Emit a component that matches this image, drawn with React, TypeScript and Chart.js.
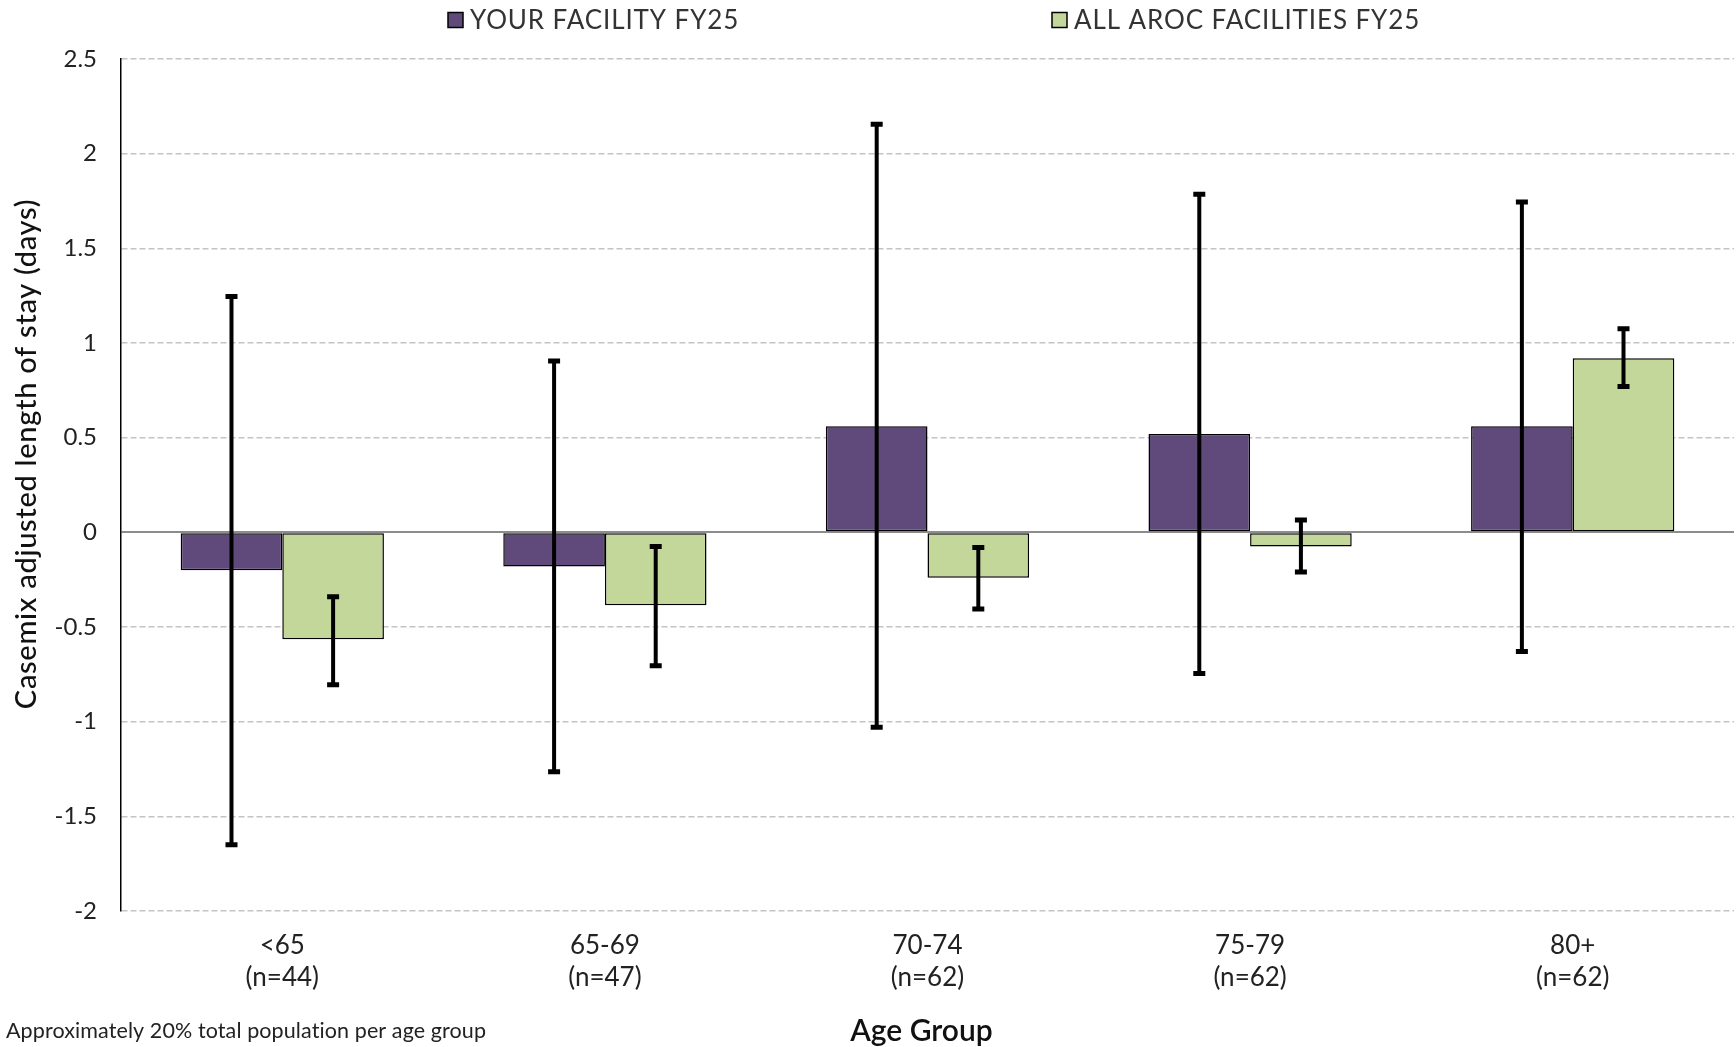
import React, { useEffect, useRef } from "react";
import { Chart, registerables } from "chart.js";

Chart.register(...registerables);

// ---- data ----
const categories: string[][] = [
  ["<65", "(n=44)"],
  ["65-69", "(n=47)"],
  ["70-74", "(n=62)"],
  ["75-79", "(n=62)"],
  ["80+", "(n=62)"],
];
const facilityValues = [-0.2, -0.18, 0.56, 0.52, 0.56];
const facilityLow = [-1.65, -1.265, -1.03, -0.745, -0.63];
const facilityHigh = [1.245, 0.905, 2.155, 1.785, 1.745];
const arocValues = [-0.565, -0.385, -0.24, -0.075, 0.92];
const arocLow = [-0.805, -0.705, -0.405, -0.21, 0.77];
const arocHigh = [-0.34, -0.075, -0.08, 0.065, 1.075];
const yTickValues = [2.5, 2, 1.5, 1, 0.5, 0, -0.5, -1, -1.5, -2];

const seriesNames = ["YOUR FACILITY FY25", "ALL AROC FACILITIES FY25"];
const seriesColors = ["#604A7B", "#C4D79B"];
const yTitle = "Casemix adjusted length of stay (days)";
const xTitle = "Age Group";
const footnote = "Approximately 20% total population per age group";

const FONT = "Lato, 'Open Sans', sans-serif";

const errLows = [facilityLow, arocLow];
const errHighs = [facilityHigh, arocHigh];

const errorBarPlugin = {
  id: "errorBars",
  afterDatasetsDraw(chart: any) {
    const { ctx } = chart;
    const yScale = chart.scales.y;
    chart.data.datasets.forEach((_ds: any, di: number) => {
      const meta = chart.getDatasetMeta(di);
      meta.data.forEach((bar: any, i: number) => {
        const x = bar.x;
        const yl = yScale.getPixelForValue(errLows[di][i]);
        const yh = yScale.getPixelForValue(errHighs[di][i]);
        ctx.save();
        ctx.strokeStyle = "#000";
        ctx.lineWidth = 4;
        ctx.beginPath();
        ctx.moveTo(x, yl);
        ctx.lineTo(x, yh);
        ctx.stroke();
        ctx.lineWidth = 5;
        ctx.beginPath();
        ctx.moveTo(x - 6, yl);
        ctx.lineTo(x + 6, yl);
        ctx.moveTo(x - 6, yh);
        ctx.lineTo(x + 6, yh);
        ctx.stroke();
        ctx.restore();
      });
    });
  },
};

const decorPlugin = {
  id: "decor",
  afterDraw(chart: any) {
    const { ctx, chartArea } = chart;
    ctx.save();
    // legend
    const legendX = [448, 1052];
    ctx.font = `26px ${FONT}`;
    (ctx as any).letterSpacing = "0.9px";
    ctx.textBaseline = "middle";
    ctx.textAlign = "left";
    seriesNames.forEach((name, i) => {
      ctx.fillStyle = seriesColors[i];
      ctx.fillRect(legendX[i], 12.5, 15, 15);
      ctx.strokeStyle = "#000";
      ctx.lineWidth = 1.5;
      ctx.strokeRect(legendX[i], 12.5, 15, 15);
      ctx.fillStyle = "#333";
      ctx.fillText(name, legendX[i] + 22, 21);
    });
    // y title
    ctx.save();
    ctx.translate(27, 454);
    ctx.rotate(-Math.PI / 2);
    ctx.font = `500 29px ${FONT}`;
    (ctx as any).letterSpacing = "0.7px";
    ctx.fillStyle = "#111";
    ctx.textAlign = "center";
    ctx.textBaseline = "middle";
    ctx.fillText(yTitle, 0, 0);
    ctx.restore();
    // x title
    ctx.font = `600 30px ${FONT}`;
    (ctx as any).letterSpacing = "0px";
    ctx.fillStyle = "#111";
    ctx.textAlign = "center";
    ctx.textBaseline = "middle";
    ctx.fillText(xTitle, (chartArea.left + chartArea.right) / 2 - 6, 1031);
    // footnote
    ctx.font = `21.5px ${FONT}`;
    (ctx as any).letterSpacing = "0.1px";
    ctx.fillStyle = "#222";
    ctx.textAlign = "left";
    ctx.fillText(footnote, 6, 1031);
    ctx.restore();
  },
};

export default function App() {
  const ref = useRef<HTMLCanvasElement>(null);
  useEffect(() => {
    document.body.style.margin = "0";
    document.body.style.overflow = "hidden";
    const chart = new Chart(ref.current as HTMLCanvasElement, {
      type: "bar",
      data: {
        labels: categories,
        datasets: [
          {
            label: seriesNames[0],
            data: facilityValues,
            backgroundColor: seriesColors[0],
            borderColor: "#000",
            borderWidth: 1.5,
            borderSkipped: false,
            barPercentage: 1,
            categoryPercentage: 0.63,
          },
          {
            label: seriesNames[1],
            data: arocValues,
            backgroundColor: seriesColors[1],
            borderColor: "#000",
            borderWidth: 1.5,
            borderSkipped: false,
            barPercentage: 1,
            categoryPercentage: 0.63,
          },
        ],
      },
      options: {
        animation: false,
        responsive: false,
        maintainAspectRatio: false,
        layout: { padding: { left: 0, right: 2, top: 59, bottom: 0 } },
        plugins: {
          legend: { display: false },
          tooltip: { enabled: false },
        },
        scales: {
          x: {
            grid: { display: false },
            border: { display: false },
            ticks: {
              color: "#222",
              font: { family: FONT, size: 26, lineHeight: 1.25 },
              padding: 10,
              maxRotation: 0,
            },
            afterFit(scale: any) {
              scale.height = 136;
            },
          },
          y: {
            min: -2,
            max: 2.5,
            afterBuildTicks(scale: any) {
              scale.ticks = yTickValues.map((v) => ({ value: v }));
            },
            ticks: {
              color: "#222",
              font: { family: FONT, size: 24 },
              padding: 24,
              callback: (v: any) => String(v),
            },
            grid: {
              drawTicks: false,
              color: (c: any) => (c.tick && c.tick.value === 0 ? "#8c8c8c" : "#c4c4c4"),
              lineWidth: (c: any) => (c.tick && c.tick.value === 0 ? 2 : 1.5),
            },
            border: {
              display: true,
              color: "#000",
              width: 1.5,
              dash: (c: any) => (c.tick && c.tick.value === 0 ? [] : [6, 3]),
            },
            afterFit(scale: any) {
              scale.width = 121;
            },
          },
        },
      },
      plugins: [errorBarPlugin, decorPlugin],
    } as any);
    return () => chart.destroy();
  }, []);
  return (
    <div style={{ width: 1736, height: 1047, position: "relative" }}>
      <canvas ref={ref} width={1736} height={1047} style={{ display: "block" }} />
    </div>
  );
}
